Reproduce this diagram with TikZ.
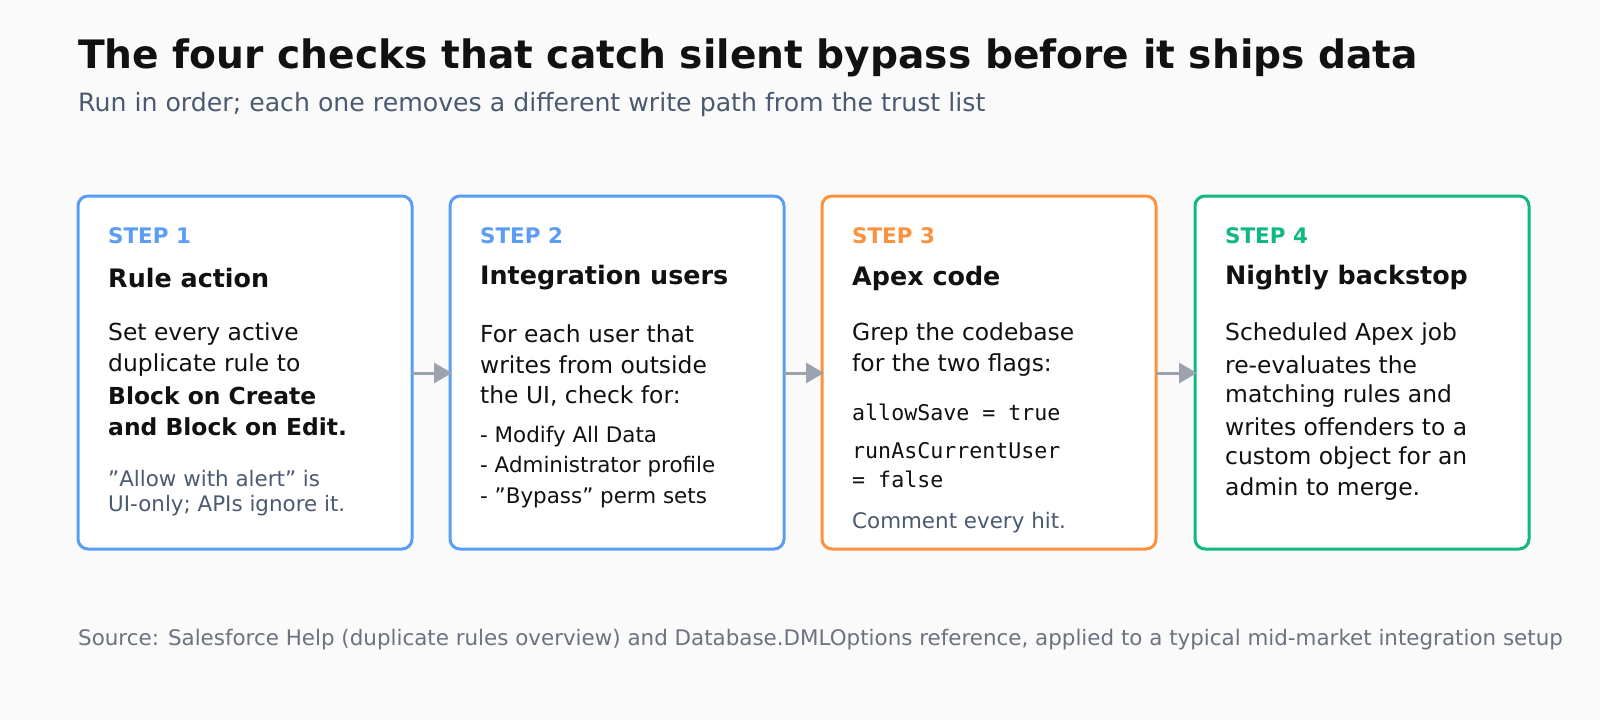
\documentclass[tikz,border=0pt]{standalone}
\usepackage{fontspec}
\setmainfont{DejaVu Sans}[Ligatures=ResetAll]
\setmonofont{DejaVu Sans Mono}
\usetikzlibrary{arrows.meta}
\definecolor{bg}{HTML}{FAFAFA}
\definecolor{ink}{HTML}{111111}
\definecolor{sub}{HTML}{4B5A70}
\definecolor{src}{HTML}{6B7280}
\definecolor{cblue}{HTML}{5B9DF5}
\definecolor{corange}{HTML}{FB923C}
\definecolor{cgreen}{HTML}{10B981}
\definecolor{arr}{HTML}{9CA3AF}
\begin{document}
\begin{tikzpicture}[x=1bp,y=-1bp,
 box/.style={draw=#1,line width=3bp,rounded corners=10bp,fill=white},
 t/.style={anchor=west,inner sep=0pt,text=ink},
 step/.style={t,font=\fontsize{21.5}{26}\selectfont\bfseries,text=#1},
 head/.style={t,font=\fontsize{25.5}{30}\selectfont\bfseries},
 body/.style={t,font=\fontsize{23.5}{28}\selectfont},
 bodyb/.style={t,font=\fontsize{23.5}{28}\selectfont\bfseries},
 lst/.style={t,font=\fontsize{21.5}{26}\selectfont},
 note/.style={t,font=\fontsize{21.5}{26}\selectfont,text=sub},
 code/.style={t,font=\fontsize{21.7}{26}\selectfont\ttfamily},
 conn/.style={draw=arr,line width=3bp,-{Triangle[length=18bp,width=20bp]}}]
\useasboundingbox (0,0) rectangle (1600,720);
\clip (0,0) rectangle (1600,720);
\fill[bg] (0,0) rectangle (1600,720);
\node[t,font=\fontsize{39.3}{46}\selectfont\bfseries] (title) at (78,58) {The four checks that catch silent bypass before it ships data};
\node[t,font=\fontsize{25.3}{30}\selectfont,text=sub] (subtitle) at (78,105) {Run in order; each one removes a different write path from the trust list};
% boxes
\draw[box=cblue] (78,196) rectangle (412,549); \coordinate (b1) at (412,373);
\draw[box=cblue] (450,196) rectangle (784,549); \coordinate (b2l) at (452,373); \coordinate (b2) at (784,373);
\draw[box=corange] (822,196) rectangle (1156,549); \coordinate (b3l) at (824,373); \coordinate (b3) at (1156,373);
\draw[box=cgreen] (1195,196) rectangle (1529,549); \coordinate (b4l) at (1197,373);
\draw[conn] (b1) -- (b2l);
\draw[conn] (b2) -- (b3l);
\draw[conn] (b3) -- (b4l);
% box 1
\node[step=cblue] (s1) at (108,236) {STEP 1};
\node[head] (h1) at (108,278) {Rule action};
\node[body] (a1) at (108,334) {Set every active};
\node[body] (a2) at (108,365) {duplicate rule to};
\node[bodyb] (a3) at (108,396) {Block on Create};
\node[bodyb] (a4) at (108,427) {and Block on Edit.};
\node[note] (a5) at (108,479) {"Allow with alert" is};
\node[note] (a6) at (108,506) {UI-only; APIs ignore it.};
% box 2
\node[step=cblue] (s2) at (480,236) {STEP 2};
\node[head] (h2) at (480,278) {Integration users};
\node[body] (c1) at (480,334) {For each user that};
\node[body] (c2) at (480,365) {writes from outside};
\node[body] (c3) at (480,396) {the UI, check for:};
\node[lst] (c4) at (480,437) {- Modify All Data};
\node[lst] (c5) at (480,467) {- Administrator profile};
\node[lst] (c6) at (480,498) {- "Bypass" perm sets};
% box 3
\node[step=corange] (s3) at (852,236) {STEP 3};
\node[head] (h3) at (852,278) {Apex code};
\node[body] (d1) at (852,334) {Grep the codebase};
\node[body] (d2) at (852,365) {for the two flags:};
\node[code] (d3) at (852,412) {allowSave = true};
\node[code] (d4) at (852,451) {runAsCurrentUser};
\node[code] (d5) at (852,479) {= false};
\node[note] (d6) at (852,523) {Comment every hit.};
% box 4
\node[step=cgreen] (s4) at (1225,236) {STEP 4};
\node[head] (h4) at (1225,278) {Nightly backstop};
\node[body] (e1) at (1225,334) {Scheduled Apex job};
\node[body] (e2) at (1225,365) {re-evaluates the};
\node[body] (e3) at (1225,396) {matching rules and};
\node[body] (e4) at (1225,427) {writes offenders to a};
\node[body] (e5) at (1225,458) {custom object for an};
\node[body] (e6) at (1225,489) {admin to merge.};
\node[t,font=\fontsize{21.5}{26}\selectfont,text=src] (source) at (78,640) {Source: Salesforce Help (duplicate rules overview) and Database.DMLOptions reference, applied to a typical mid-market integration setup};
\end{tikzpicture}
\end{document}
